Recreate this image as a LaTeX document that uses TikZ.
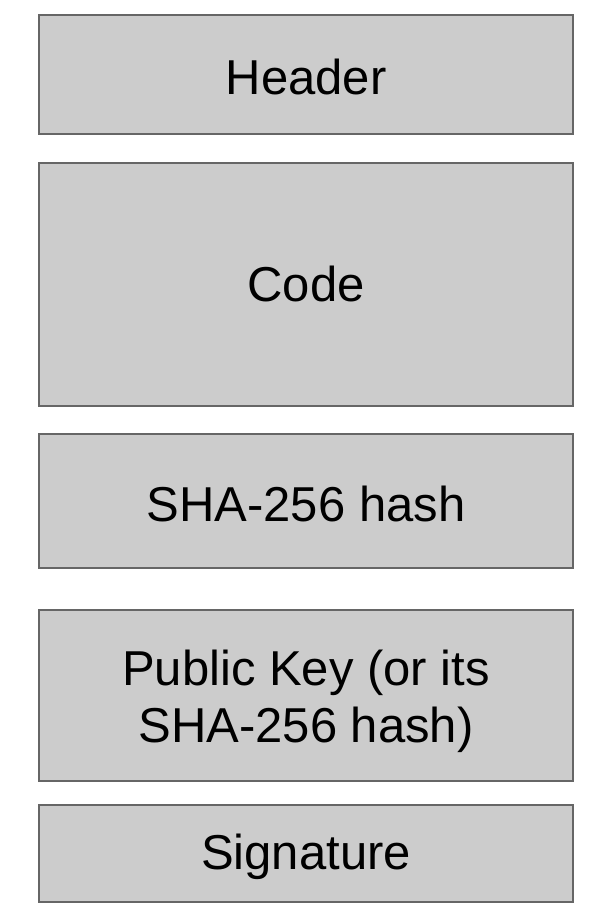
\documentclass[tikz,border=0pt]{standalone}
\usepackage{fontspec}
\setmainfont{Liberation Sans}
\definecolor{boxfill}{HTML}{CCCCCC}
\definecolor{boxline}{HTML}{666666}
\begin{document}
\begin{tikzpicture}[x=1pt,y=-1pt,
  block/.style={draw=boxline,fill=boxfill,line width=2pt},
  lbl/.style={font=\fontsize{49}{57}\selectfont,align=center,text=black,inner sep=0pt,anchor=base}]
\useasboundingbox (0,0) rectangle (598,923);
\draw[block] (39,15) rectangle (573,134);
\draw[block] (39,163) rectangle (573,406);
\draw[block] (39,434) rectangle (573,568);
\draw[block] (39,610) rectangle (573,781);
\draw[block] (39,805) rectangle (573,902);
\node[lbl] (header) at (306,94.5) {Header};
\node[lbl] (code) at (306,301) {Code};
\node[lbl] (sha) at (306,521) {SHA-256 hash};
\node[lbl] (pk) at (306,742) {Public Key (or its\\SHA-256 hash)};
\node[lbl] (sig) at (306,869) {Signature};
\end{tikzpicture}
\end{document}
